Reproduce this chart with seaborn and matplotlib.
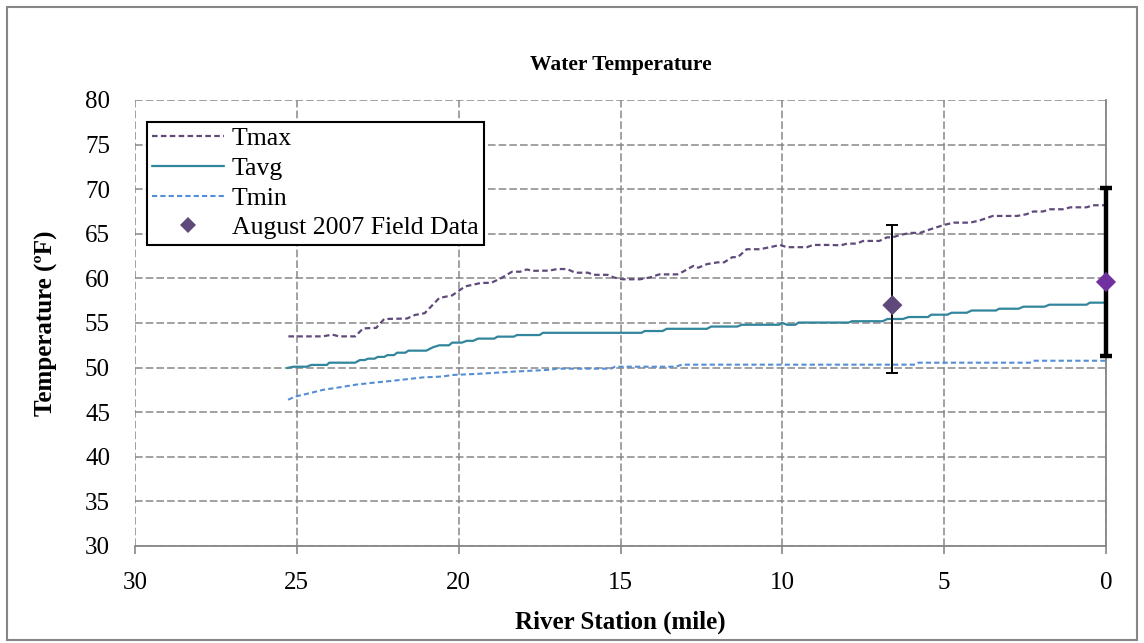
import matplotlib
matplotlib.use("Agg")
import matplotlib.pyplot as plt
import seaborn as sns
import pandas as pd
from matplotlib.lines import Line2D
from matplotlib.patches import Rectangle

# ---------------- data ----------------
tmax_mile = [25.26, 24.6, 24.2, 23.9, 23.7, 23.2, 22.95, 22.55, 22.3, 21.6, 21.35, 21.05,
             20.6, 20.2, 19.8, 19.3, 19.0, 18.7, 18.35, 18.1, 17.9, 17.7, 17.2, 16.96,
             16.65, 16.4, 16.0, 15.85, 15.4, 15.2, 14.95, 14.4, 14.1, 13.8, 13.25, 13.07,
             12.75, 12.6, 12.33, 12.0, 11.8, 11.55, 11.37, 11.1, 10.7, 10.38, 10.07, 9.86,
             9.24, 9.05, 8.5, 8.2, 8.0, 7.7, 7.5, 7.0, 6.77, 6.6, 6.36, 6.05, 5.75, 5.43,
             5.0, 4.7, 4.2, 3.9, 3.5, 2.75, 2.45, 2.25, 1.95, 1.73, 1.33, 1.1, 0.6, 0.4, 0.0]
tmax_temp = [53.5, 53.5, 53.5, 53.7, 53.5, 53.5, 54.4, 54.45, 55.45, 55.5, 55.9, 56.1,
             57.8, 58.1, 59.1, 59.5, 59.5, 60.0, 60.75, 60.75, 61.0, 60.85, 60.87, 61.05,
             61.05, 60.64, 60.64, 60.4, 60.4, 60.1, 59.9, 59.9, 60.1, 60.45, 60.45, 60.75,
             61.4, 61.2, 61.6, 61.8, 61.8, 62.37, 62.4, 63.27, 63.27, 63.5, 63.75, 63.5,
             63.5, 63.75, 63.75, 63.7, 63.9, 63.9, 64.2, 64.2, 64.6, 64.6, 64.87, 65.1, 65.1, 65.5,
             66.0, 66.25, 66.25, 66.5, 67.0, 67.0, 67.2, 67.5, 67.5, 67.75, 67.75, 67.97, 67.97, 68.2, 68.2]

tavg_mile = [25.3, 25.1, 24.7, 24.55, 24.07, 24.0, 23.2, 23.05, 22.9, 22.8, 22.6, 22.5, 22.3,
             22.2, 22.0, 21.9, 21.65, 21.55, 21.0, 20.8, 20.6, 20.3, 20.2, 19.9, 19.75, 19.55,
             19.4, 18.9, 18.8, 18.3, 18.2, 17.5, 17.4, 14.35, 14.25, 13.7, 13.57, 12.33, 12.2,
             11.4, 11.25, 10.1, 10.0, 9.85, 9.6, 9.5, 7.95, 7.85, 6.9, 6.75, 6.27, 6.1, 5.5,
             5.4, 4.9, 4.77, 4.3, 4.15, 3.4, 3.3, 2.7, 2.55, 1.9, 1.75, 0.6, 0.5, 0.0]
tavg_temp = [49.95, 50.1, 50.1, 50.3, 50.3, 50.55, 50.55, 50.85, 50.85, 51.0, 51.0, 51.2, 51.2,
             51.4, 51.4, 51.67, 51.67, 51.9, 51.9, 52.27, 52.5, 52.5, 52.8, 52.8, 53.0, 53.0,
             53.25, 53.25, 53.47, 53.47, 53.65, 53.65, 53.9, 53.9, 54.1, 54.1, 54.35, 54.35, 54.6,
             54.6, 54.8, 54.8, 55.0, 54.8, 54.8, 55.05, 55.05, 55.2, 55.2, 55.45, 55.45, 55.67, 55.67,
             55.93, 55.93, 56.15, 56.15, 56.4, 56.4, 56.6, 56.6, 56.83, 56.83, 57.05, 57.05, 57.28, 57.28]

tmin_mile = [25.27, 25.05, 24.7, 24.2, 23.66, 23.15, 22.65, 22.1, 21.6, 21.1, 20.5, 20.2,
             19.4, 18.3, 17.2, 16.96, 15.3, 15.17, 13.3, 13.1, 5.9, 5.8, 2.35, 2.25, 0.0]
tmin_temp = [46.4, 46.75, 47.05, 47.5, 47.8, 48.1, 48.3, 48.5, 48.7, 48.9, 49.0, 49.17,
             49.3, 49.55, 49.75, 49.88, 49.88, 50.1, 50.1, 50.33, 50.33, 50.55, 50.55, 50.77, 50.77]

field_mile = [6.6, 0.0]
field_temp = [57.0, 59.6]
field_low = [49.4, 51.3]
field_high = [66.0, 70.1]

x_ticks = [30, 25, 20, 15, 10, 5, 0]
y_ticks = [30, 35, 40, 45, 50, 55, 60, 65, 70, 75, 80]

# ---------------- style ----------------
sns.set_theme(style="white")
plt.rcParams["font.family"] = ["Liberation Serif", "DejaVu Serif"]
plt.rcParams["text.color"] = "black"
plt.rcParams["axes.labelcolor"] = "black"

C_MAX = "#604A7B"
C_AVG = "#31859C"
C_MIN = "#558ED5"
C_PT1 = "#5F497A"
C_PT2 = "#7030A0"
GRID = "#878787"

fig = plt.figure(figsize=(11.44, 6.43), dpi=100)
ax = fig.add_axes([135 / 1144, 1 - 546 / 643, 971 / 1144, 446 / 643])

# outer chart border
fig.patches.append(Rectangle((7 / 1144, 1 - 640 / 643), 1130 / 1144, 633 / 643,
                             transform=fig.transFigure, fill=False,
                             edgecolor="#868686", linewidth=1.5))

df_max = pd.DataFrame({"mile": tmax_mile, "temp": tmax_temp})
df_avg = pd.DataFrame({"mile": tavg_mile, "temp": tavg_temp})
df_min = pd.DataFrame({"mile": tmin_mile, "temp": tmin_temp})

sns.lineplot(data=df_max, x="mile", y="temp", ax=ax, color=C_MAX, linewidth=1.6,
             estimator=None, sort=False, linestyle=(0, (2.5, 1.5)), zorder=3)
sns.lineplot(data=df_avg, x="mile", y="temp", ax=ax, color=C_AVG, linewidth=1.6,
             estimator=None, sort=False, zorder=3)
sns.lineplot(data=df_min, x="mile", y="temp", ax=ax, color=C_MIN, linewidth=1.5,
             estimator=None, sort=False, linestyle=(0, (2.5, 1.5)), zorder=3)

# error bars (thin for first point, thick for second)
lw_err = [1.4, 3.2]
for i in range(len(field_mile)):
    ax.errorbar([field_mile[i]], [field_temp[i]],
                yerr=[[field_temp[i] - field_low[i]], [field_high[i] - field_temp[i]]],
                fmt="none", ecolor="black", elinewidth=lw_err[i], capsize=4.5,
                capthick=lw_err[i], zorder=4, clip_on=False)

df_pts = pd.DataFrame({"mile": field_mile, "temp": field_temp, "grp": ["a", "b"]})
sns.scatterplot(data=df_pts, x="mile", y="temp", hue="grp",
                palette={"a": C_PT1, "b": C_PT2}, marker="D", s=105,
                edgecolor="none", ax=ax, zorder=5, legend=False, clip_on=False)

ax.set_xlim(30, 0)
ax.set_ylim(30, 80)
ax.set_xticks(x_ticks)
ax.set_yticks(y_ticks)
ax.set_xticklabels([str(v) for v in x_ticks])
ax.set_yticklabels([str(v) for v in y_ticks])

ax.grid(True, color=GRID, linestyle=(0, (5, 2)), linewidth=1.1, zorder=1)
ax.set_axisbelow(True)

for s in ["left", "top"]:
    ax.spines[s].set_visible(False)
for s in ["bottom", "right"]:
    ax.spines[s].set_visible(True)
    ax.spines[s].set_color("#868686")
    ax.spines[s].set_linewidth(1.3)

ax.tick_params(axis="x", direction="out", length=6, width=1.2, color="#868686",
               labelcolor="black", labelsize=18, pad=13, bottom=True)
ax.tick_params(axis="y", length=0, labelsize=18, pad=18, labelcolor="black",
               left=True, right=False)

ax.set_xlabel("River Station (mile)", fontsize=18, fontweight="bold")
ax.set_ylabel("Temperature (ºF)", fontsize=18, fontweight="bold")
ax.xaxis.set_label_coords(0.5, -0.145)
ax.yaxis.set_label_coords(-0.079, 0.5)

ax.set_title("Water Temperature", fontsize=15.5, fontweight="bold", y=1.0785,
             va="center", pad=0)

handles = [
    Line2D([], [], color=C_MAX, linewidth=1.6, linestyle=(0, (2.5, 1.5))),
    Line2D([], [], color=C_AVG, linewidth=1.6),
    Line2D([], [], color=C_MIN, linewidth=1.5, linestyle=(0, (2.5, 1.5))),
    Line2D([], [], color=C_PT1, marker="D", linestyle="none", markersize=8,
           markeredgewidth=0),
]
labels = ["Tmax", "Tavg", "Tmin", "August 2007 Field Data"]
leg = ax.legend(handles, labels, loc="upper left", bbox_to_anchor=(0.012, 0.951),
                borderaxespad=0, prop={"size": 18.5}, frameon=True, fancybox=False,
                framealpha=1, edgecolor="black", borderpad=0.22, labelspacing=0.26,
                handlelength=2.8, handletextpad=0.3)
leg.get_frame().set_linewidth(1.5)
leg.set_zorder(10)

fig.savefig("out.png", dpi=100)
